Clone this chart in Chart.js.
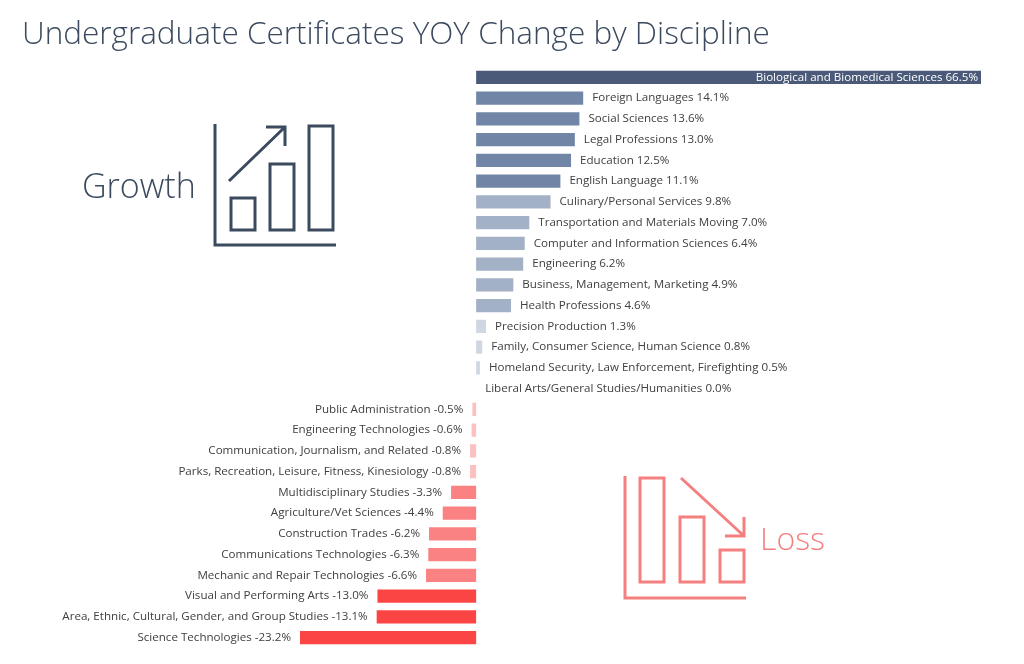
<!DOCTYPE html>
<html lang="en">
<head>
    <meta charset="UTF-8">
    <title>Undergraduate Certificates YOY Change</title>
    <script src="https://cdn.jsdelivr.net/npm/chart.js@4"></script>
    <style>
        body { margin: 0; background: #fff; }
        #wrap { position: relative; width: 1024px; height: 664px; }
    </style>
</head>
<body>
<div id="wrap"><canvas id="chart" width="1024" height="664"></canvas></div>
<script>
var categories = ["Biological and Biomedical Sciences", "Foreign Languages", "Social Sciences", "Legal Professions",
    "Education", "English Language", "Culinary/Personal Services", "Transportation and Materials Moving",
    "Computer and Information Sciences", "Engineering", "Business, Management, Marketing", "Health Professions",
    "Precision Production", "Family, Consumer Science, Human Science", "Homeland Security, Law Enforcement, Firefighting",
    "Liberal Arts/General Studies/Humanities", "Public Administration", "Engineering Technologies",
    "Communication, Journalism, and Related", "Parks, Recreation, Leisure, Fitness, Kinesiology",
    "Multidisciplinary Studies", "Agriculture/Vet Sciences", "Construction Trades", "Communications Technologies",
    "Mechanic and Repair Technologies", "Visual and Performing Arts", "Area, Ethnic, Cultural, Gender, and Group Studies",
    "Science Technologies"];
var changes = [66.5, 14.1, 13.6, 13.0, 12.5, 11.1, 9.8, 7.0, 6.4, 6.2, 4.9, 4.6, 1.3, 0.8, 0.5, 0.0,
    -0.5, -0.6, -0.8, -0.8, -3.3, -4.4, -6.2, -6.3, -6.6, -13.0, -13.1, -23.2];

function barColor(v) {
    if (v > 60) return '#4a5a78';
    if (v > 10) return '#7186a6';
    if (v > 3) return '#a3b1c6';
    if (v > 0) return '#d0d7e3';
    if (v === 0) return 'rgba(0,0,0,0)';
    if (v > -1) return '#fbc0c0';
    if (v > -10) return '#fb8282';
    return '#fb4545';
}

var labelPlugin = {
    id: 'barLabels',
    afterDatasetsDraw: function (chart) {
        var ctx = chart.ctx;
        var meta = chart.getDatasetMeta(0);
        ctx.save();
        ctx.font = '11.6px "Open Sans", sans-serif';
        ctx.textBaseline = 'middle';
        meta.data.forEach(function (bar, i) {
            var v = changes[i];
            var txt = categories[i] + ' ' + v.toFixed(1) + '%';
            if (i === 0) {
                ctx.fillStyle = '#ffffff';
                ctx.textAlign = 'right';
                ctx.fillText(txt, bar.x - 3, bar.y);
            } else if (v >= 0) {
                ctx.fillStyle = '#404040';
                ctx.textAlign = 'left';
                ctx.fillText(txt, bar.x + 9, bar.y);
            } else {
                ctx.fillStyle = '#404040';
                ctx.textAlign = 'right';
                ctx.fillText(txt, bar.x - 9, bar.y);
            }
        });
        ctx.restore();
    }
};

var decoPlugin = {
    id: 'deco',
    afterDraw: function (chart) {
        var ctx = chart.ctx;
        ctx.save();
        ctx.fillStyle = '#3b4a5e';
        ctx.font = '300 31.5px "Open Sans", sans-serif';
        ctx.textBaseline = 'middle';
        ctx.fillText('Undergraduate Certificates YOY Change by Discipline', 22, 35);

        // growth icon
        ctx.strokeStyle = '#3b4a5e';
        ctx.lineWidth = 3;
        ctx.beginPath();
        ctx.moveTo(215, 124); ctx.lineTo(215, 245); ctx.lineTo(336, 245);
        ctx.stroke();
        ctx.strokeRect(231, 198, 24, 32);
        ctx.strokeRect(270, 164, 24, 66);
        ctx.strokeRect(309, 126, 24, 104);
        ctx.beginPath();
        ctx.moveTo(229, 181); ctx.lineTo(285, 127);
        ctx.moveTo(266, 127); ctx.lineTo(285, 127); ctx.lineTo(285, 146);
        ctx.stroke();
        ctx.font = '300 34px "Open Sans", sans-serif';
        ctx.fillText('Growth', 82, 188);

        // loss icon
        ctx.strokeStyle = '#f47f7f';
        ctx.fillStyle = '#f47f7f';
        ctx.beginPath();
        ctx.moveTo(625, 476); ctx.lineTo(625, 598); ctx.lineTo(746, 598);
        ctx.stroke();
        ctx.strokeRect(640, 478, 24, 104);
        ctx.strokeRect(680, 517, 24, 65);
        ctx.strokeRect(720, 550, 24, 32);
        ctx.beginPath();
        ctx.moveTo(681, 478); ctx.lineTo(744, 536);
        ctx.moveTo(744, 517); ctx.lineTo(744, 536); ctx.lineTo(725, 536);
        ctx.stroke();
        ctx.font = '300 32px "Open Sans", sans-serif';
        ctx.fillText('Loss', 760, 541);
        ctx.restore();
    }
};

new Chart(document.getElementById('chart'), {
    type: 'bar',
    data: {
        labels: categories,
        datasets: [{
            data: changes,
            backgroundColor: changes.map(barColor),
            barPercentage: 0.64,
            categoryPercentage: 1.0
        }]
    },
    options: {
        indexAxis: 'y',
        responsive: false,
        animation: false,
        layout: { padding: { left: 300, right: 43, top: 67, bottom: 16 } },
        plugins: { legend: { display: false }, tooltip: { enabled: false } },
        scales: {
            x: { display: false, min: -23.2, max: 66.5 },
            y: { display: false }
        }
    },
    plugins: [labelPlugin, decoPlugin]
});
</script>
</body>
</html>
